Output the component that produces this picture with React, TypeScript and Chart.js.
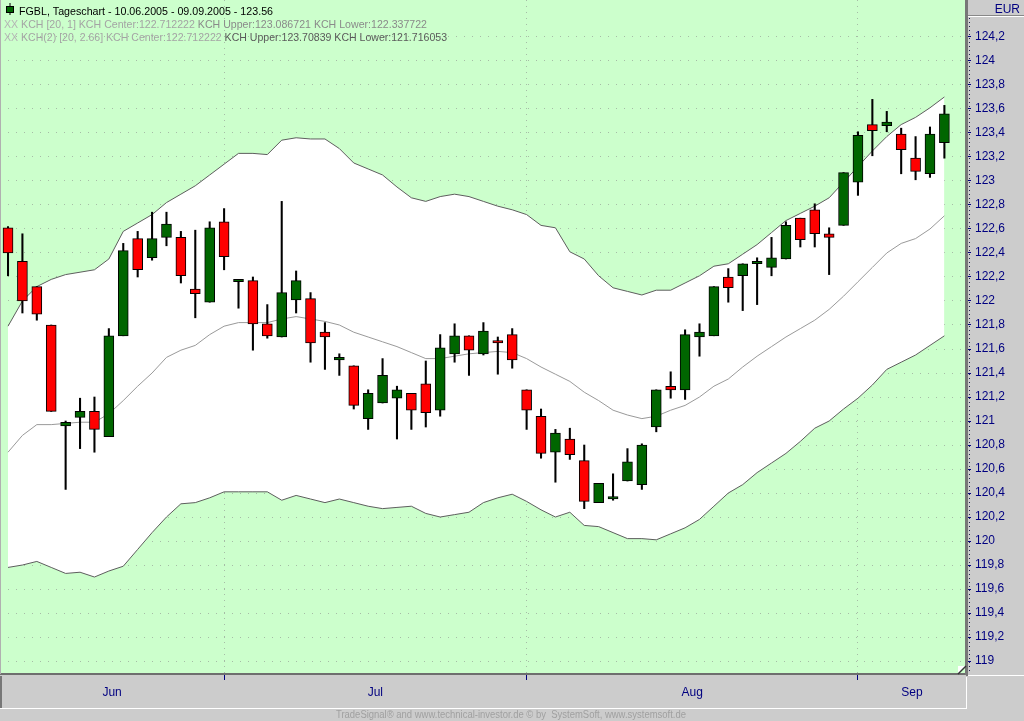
import { useEffect, useRef } from "react";
import { Chart, registerables } from "chart.js";

Chart.register(...registerables);

// FGBL daily, 10.06.2005 - 09.09.2005 (66 trading days)
const opens = [
  122.61, 122.33, 122.12, 121.8, 120.96, 121.03, 121.08, 120.87, 121.71, 122.52,
  122.36, 122.53, 122.53, 122.1, 121.99, 122.66, 122.16, 122.17, 121.81, 121.7,
  122.01, 122.02, 121.74, 121.51, 121.46, 121.02, 121.15, 121.19, 121.23, 121.31,
  121.09, 121.56, 121.71, 121.56, 121.67, 121.72, 121.26, 121.04, 120.74, 120.85,
  120.67, 120.32, 120.35, 120.5, 120.47, 120.95, 121.29, 121.26, 121.7, 121.71,
  122.2, 122.21, 122.31, 122.28, 122.35, 122.69, 122.76, 122.56, 122.63, 122.99,
  123.47, 123.46, 123.39, 123.19, 123.06, 123.32,
];
const highs = [
  122.62, 122.56, 122.12, 121.8, 121.0, 121.19, 121.2, 121.77, 122.48, 122.58,
  122.74, 122.74, 122.58, 122.59, 122.66, 122.77, 122.18, 122.2, 121.97, 122.83,
  122.25, 122.07, 121.82, 121.56, 121.46, 121.26, 121.52, 121.29, 121.23, 121.5,
  121.72, 121.81, 121.71, 121.82, 121.7, 121.77, 121.26, 121.1, 120.93, 120.94,
  120.8, 120.48, 120.56, 120.77, 120.81, 121.26, 121.41, 121.76, 121.81, 122.12,
  122.27, 122.31, 122.36, 122.53, 122.66, 122.69, 122.81, 122.61, 123.07, 123.41,
  123.68, 123.58, 123.44, 123.37, 123.45, 123.63,
];
const lows = [
  122.21, 121.9, 121.84, 121.08, 120.43, 120.77, 120.74, 120.87, 121.71, 122.2,
  122.34, 122.46, 122.15, 121.86, 121.99, 122.26, 121.94, 121.59, 121.69, 121.7,
  121.9, 121.49, 121.43, 121.38, 121.1, 120.93, 121.15, 120.85, 120.93, 120.95,
  121.04, 121.49, 121.38, 121.55, 121.39, 121.44, 120.93, 120.69, 120.49, 120.68,
  120.27, 120.32, 120.34, 120.5, 120.43, 120.91, 121.19, 121.18, 121.54, 121.71,
  121.99, 121.92, 121.97, 122.21, 122.35, 122.45, 122.45, 122.22, 122.63, 122.88,
  123.21, 123.41, 123.06, 123.01, 123.03, 123.19,
];
const closes = [
  122.4, 122.0, 121.89, 121.08, 120.99, 121.08, 120.93, 121.71, 122.42, 122.26,
  122.52, 122.64, 122.21, 122.06, 122.61, 122.37, 122.18, 121.81, 121.71, 122.07,
  122.17, 121.65, 121.7, 121.53, 121.13, 121.23, 121.38, 121.26, 121.09, 121.07,
  121.61, 121.71, 121.59, 121.75, 121.65, 121.51, 121.09, 120.73, 120.9, 120.72,
  120.33, 120.48, 120.37, 120.66, 120.8, 121.26, 121.26, 121.72, 121.74, 122.12,
  122.11, 122.31, 122.33, 122.36, 122.63, 122.51, 122.56, 122.53, 123.07, 123.38,
  123.42, 123.49, 123.26, 123.08, 123.39, 123.56,
];

// KCH(2) [20, 2.66]
const kchUpper = [
  121.79, 122.0, 122.12, 122.18, 122.22, 122.24, 122.26, 122.35, 122.58, 122.65,
  122.72, 122.82, 122.89, 122.96, 123.05, 123.14, 123.23, 123.23, 123.22, 123.34,
  123.36, 123.35, 123.35, 123.27, 123.15, 123.1, 123.05, 122.95, 122.86, 122.83,
  122.87, 122.89, 122.87, 122.83, 122.79, 122.76, 122.72, 122.63, 122.61, 122.41,
  122.35, 122.21, 122.11, 122.08, 122.05, 122.09, 122.09, 122.15, 122.21, 122.29,
  122.31, 122.39, 122.47, 122.57, 122.67, 122.73, 122.79, 122.86, 122.99, 123.12,
  123.25, 123.37, 123.47, 123.53, 123.61, 123.7,
];
const kchCenter = [
  120.74, 120.88, 120.97, 120.97, 120.98, 120.99, 120.99, 121.06, 121.17, 121.29,
  121.4, 121.53, 121.59, 121.63, 121.72, 121.79, 121.82, 121.82, 121.82, 121.85,
  121.87, 121.85, 121.83, 121.8, 121.74, 121.7, 121.66, 121.62, 121.57, 121.52,
  121.52, 121.54, 121.56, 121.57, 121.58, 121.57, 121.52, 121.45, 121.39, 121.33,
  121.24, 121.17, 121.09, 121.05, 121.02, 121.04, 121.09, 121.13, 121.2, 121.29,
  121.35, 121.45, 121.54, 121.62, 121.7, 121.77, 121.84, 121.93, 122.04, 122.16,
  122.28, 122.4, 122.48, 122.52, 122.6, 122.71,
];
const kchLower = [
  119.78, 119.8, 119.83, 119.78, 119.73, 119.74, 119.7, 119.75, 119.79, 119.93,
  120.07, 120.2, 120.31, 120.32, 120.36, 120.41, 120.41, 120.41, 120.41, 120.34,
  120.38, 120.35, 120.32, 120.35, 120.32, 120.29, 120.27, 120.28, 120.29, 120.23,
  120.2, 120.22, 120.24, 120.32, 120.36, 120.39, 120.33, 120.26, 120.2, 120.24,
  120.13, 120.12, 120.07, 120.02, 120.02, 120.01, 120.06, 120.11, 120.18, 120.29,
  120.4, 120.47, 120.57, 120.65, 120.73, 120.83, 120.94, 121.0, 121.1, 121.19,
  121.3, 121.43, 121.49, 121.55, 121.63, 121.71,
];

const monthLabels = ["Jun", "Jul", "Aug", "Sep"];
const monthStarts = [15, 36, 59]; // first trading day of Jul, Aug, Sep
const yTicks = [
  119, 119.2, 119.4, 119.6, 119.8, 120, 120.2, 120.4, 120.6, 120.8, 121, 121.2,
  121.4, 121.6, 121.8, 122, 122.2, 122.4, 122.6, 122.8, 123, 123.2, 123.4, 123.6,
  123.8, 124, 124.2,
];

const titleText = "FGBL, Tageschart - 10.06.2005 - 09.09.2005 - 123.56";
const legend1: [string, string][] = [
  ["XX ", "#b4b4b4"],
  ["KCH [20, 1] KCH Center:122.712222 ", "#a4a4a4"],
  ["KCH Upper:123.086721 KCH Lower:122.337722", "#8a8a8a"],
];
const legend2: [string, string][] = [
  ["XX ", "#b4b4b4"],
  ["KCH(2) [20, 2.66] KCH Center:122.712222 ", "#a4a4a4"],
  ["KCH Upper:123.70839 KCH Lower:121.716053", "#5a5a5a"],
];
const footerText = "TradeSignal\u00ae and www.technical-investor.de \u00a9 by  SystemSoft, www.systemsoft.de";

const X_MIN = -0.556;
const X_MAX = 66.5;
const Y_MIN = 118.892;
const Y_MAX = 124.508;

const FONT = "'Liberation Sans', Arial, sans-serif";
const NAVY = "#000080";

const bounds = [X_MIN, ...monthStarts, X_MAX];
const labelPos = monthLabels.map((_, i) => (bounds[i] + bounds[i + 1]) / 2);
const xTickValues = [...labelPos, ...monthStarts].sort((a, b) => a - b);

function fmtPrice(v: number) {
  const r = Math.round(v * 10) / 10;
  return Number.isInteger(r) ? String(r) : String(r).replace(".", ",");
}

function drawSegments(
  ctx: CanvasRenderingContext2D,
  segs: [string, string][],
  x: number,
  y: number,
  width: number,
  font: string
) {
  ctx.font = font;
  const total = segs.reduce((s, [t]) => s + ctx.measureText(t).width, 0);
  ctx.save();
  ctx.translate(x, y);
  ctx.scale(width / total, 1);
  let cx = 0;
  for (const [t, c] of segs) {
    ctx.fillStyle = c;
    ctx.fillText(t, cx, 0);
    cx += ctx.measureText(t).width;
  }
  ctx.restore();
}

const framePlugin = {
  id: "frame",
  beforeDraw(chart: Chart) {
    const { ctx, chartArea: a, width, height } = chart;
    ctx.save();
    ctx.fillStyle = "#cccccc";
    ctx.fillRect(0, 0, width, height);
    ctx.fillStyle = "#ccffcc";
    ctx.fillRect(a.left, a.top, a.right - a.left, a.bottom - a.top);
    ctx.restore();
  },
  afterDraw(chart: Chart) {
    const { ctx, chartArea: a, width } = chart;
    ctx.save();
    const line = (x1: number, y1: number, x2: number, y2: number, c: string, w = 1) => {
      ctx.strokeStyle = c;
      ctx.lineWidth = w;
      ctx.beginPath();
      ctx.moveTo(x1, y1);
      ctx.lineTo(x2, y2);
      ctx.stroke();
    };
    // plot frame
    line(0.5, 0, 0.5, a.bottom, "#b0b0b0");
    line(a.right + 1, 0, a.right + 1, a.bottom + 2, "#777777", 2);
    // bottom axis band
    line(1, a.bottom + 2, 1, 708, "#777777", 2);
    line(0, 708.5, a.right, 708.5, "#ffffff");
    line(a.right + 0.5, a.bottom + 3, a.right + 0.5, 709, "#ffffff");
    // right axis band
    line(a.right + 2, a.bottom + 1.5, width, a.bottom + 1.5, "#ffffff");
    line(a.right + 2, 15.5, width, 15.5, "#888888");
    line(a.right + 2, 16.5, width, 16.5, "#ffffff");
    ctx.setLineDash([1, 3]);
    line(a.right + 3.5, 18, a.right + 3.5, a.bottom, "#202050");
    ctx.setLineDash([]);

    ctx.textBaseline = "alphabetic";
    ctx.font = `12px ${FONT}`;
    ctx.fillStyle = NAVY;
    ctx.textAlign = "right";
    ctx.fillText("EUR", 1020, 13);
    ctx.textAlign = "left";

    // legend icon
    line(10, 3, 10, 15, "#000000");
    ctx.fillStyle = "#006600";
    ctx.fillRect(6.5, 6.5, 7, 6);
    ctx.strokeStyle = "#000000";
    ctx.strokeRect(6.5, 6.5, 7, 6);

    drawSegments(ctx, [[titleText, "#000000"]], 19, 14.5, 254, `11px ${FONT}`);
    drawSegments(ctx, legend1, 4, 27.5, 423, `11px ${FONT}`);
    drawSegments(ctx, legend2, 4, 40.5, 443, `11px ${FONT}`);
    drawSegments(ctx, [[footerText, "#a0a0a0"]], 336, 718, 350, `10px ${FONT}`);

    // resize grip
    ctx.fillStyle = "#ffffff";
    ctx.beginPath();
    ctx.moveTo(a.right - 8, a.bottom);
    ctx.lineTo(a.right - 8, a.bottom - 8);
    ctx.lineTo(a.right, a.bottom - 8);
    ctx.closePath();
    ctx.fill();
    line(a.right - 8, a.bottom, a.right, a.bottom - 8, "#333333", 1.5);
    ctx.restore();
  },
};

export default function App() {
  const chartRef = useRef<HTMLCanvasElement>(null);
  const chartInstance = useRef<Chart | null>(null);

  useEffect(() => {
    if (!chartRef.current) return;
    if (chartInstance.current) chartInstance.current.destroy();
    const ctx = chartRef.current.getContext("2d");
    if (!ctx) return;

    const bodies = opens.map((o, i) => ({ x: i, y: [o, closes[i]] }));
    const wicks = lows.map((l, i) => ({ x: i, y: [l, highs[i]] }));
    const bodyColors = opens.map((o, i) => (closes[i] >= o ? "#006600" : "#ff0000"));
    const toXY = (arr: number[]) => arr.map((v, i) => ({ x: i, y: v }));

    chartInstance.current = new Chart(ctx, {
      type: "bar",
      data: {
        datasets: [
          {
            type: "bar",
            data: bodies as any,
            backgroundColor: bodyColors,
            borderColor: "#000000",
            borderWidth: 1,
            borderSkipped: false,
            barThickness: 10,
            grouped: false,
            order: 0,
          },
          {
            type: "bar",
            data: wicks as any,
            backgroundColor: "#000000",
            borderWidth: 0,
            barThickness: 1.4,
            grouped: false,
            order: 1,
          },
          {
            type: "line",
            data: toXY(kchUpper) as any,
            borderColor: "#5e5e5e",
            borderWidth: 1,
            backgroundColor: "#ffffff",
            fill: "+2",
            pointRadius: 0,
            order: 4,
          },
          {
            type: "line",
            data: toXY(kchCenter) as any,
            borderColor: "#9a9a9a",
            borderWidth: 1,
            pointRadius: 0,
            fill: false,
            order: 2,
          },
          {
            type: "line",
            data: toXY(kchLower) as any,
            borderColor: "#5e5e5e",
            borderWidth: 1,
            pointRadius: 0,
            fill: false,
            order: 3,
          },
        ],
      },
      options: {
        responsive: true,
        maintainAspectRatio: false,
        animation: false,
        events: [],
        layout: { padding: 0 },
        scales: {
          x: {
            type: "linear",
            min: X_MIN,
            max: X_MAX,
            offset: false,
            afterBuildTicks: (s: any) => {
              s.ticks = xTickValues.map((value) => ({ value }));
            },
            afterFit: (s: any) => {
              s.height = 47;
              s.paddingLeft = 0;
              s.paddingRight = 0;
            },
            grid: {
              offset: false,
              color: (c: any) => (monthStarts.includes(c.tick?.value) ? "#a6bca6" : "rgba(0,0,0,0)"),
              tickColor: (c: any) => (monthStarts.includes(c.tick?.value) ? NAVY : "rgba(0,0,0,0)"),
              tickLength: 6,
              tickBorderDash: [],
            },
            border: { display: true, color: "#6e6e6e", width: 2, dash: [1, 5] },
            ticks: {
              autoSkip: false,
              maxRotation: 0,
              padding: 5,
              color: NAVY,
              font: { family: FONT, size: 12 },
              callback: (v: any) => {
                const i = labelPos.indexOf(Number(v));
                return i >= 0 ? monthLabels[i] : "";
              },
            },
          },
          y: {
            type: "linear",
            position: "right",
            min: Y_MIN,
            max: Y_MAX,
            afterBuildTicks: (s: any) => {
              s.ticks = yTicks.map((value) => ({ value }));
            },
            afterFit: (s: any) => {
              s.width = 58;
              s.paddingTop = 0;
              s.paddingBottom = 0;
            },
            grid: {
              color: "#a6bca6",
              tickColor: NAVY,
              tickLength: 5,
              tickBorderDash: [],
            },
            border: { display: true, color: "#777777", width: 2, dash: [1, 7] },
            ticks: {
              padding: 4,
              color: NAVY,
              font: { family: FONT, size: 12 },
              callback: (v: any) => fmtPrice(Number(v)),
            },
          },
        },
        plugins: {
          legend: { display: false },
          tooltip: { enabled: false },
        },
      },
      plugins: [framePlugin],
    });

    return () => {
      if (chartInstance.current) {
        chartInstance.current.destroy();
        chartInstance.current = null;
      }
    };
  }, []);

  return (
    <div style={{ position: "fixed", left: 0, top: 0, width: "1024px", height: "721px" }}>
      <canvas ref={chartRef} />
    </div>
  );
}
